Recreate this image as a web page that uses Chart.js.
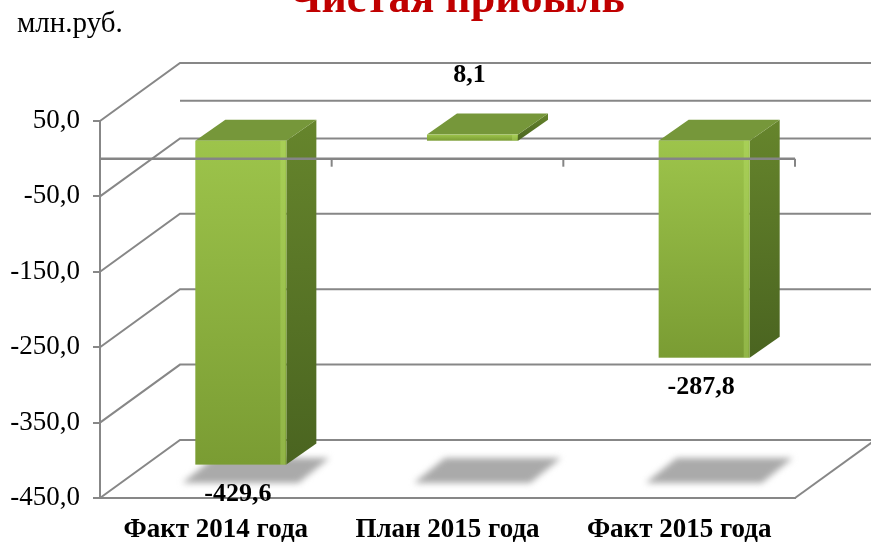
<!DOCTYPE html>
<html>
<head>
<meta charset="utf-8">
<script src="https://cdn.jsdelivr.net/npm/chart.js@4.4.0/dist/chart.umd.min.js"></script>
<style>
  html, body { margin: 0; padding: 0; background: #fff; }
  #wrap { width: 871px; height: 544px; }
</style>
</head>
<body>
<div id="wrap"><canvas id="profitChart" width="871" height="544"></canvas></div>
<script>
// DATA
const TITLE = "Чистая прибыль";
const UNIT = "млн.руб.";
const categories = ["Факт 2014 года", "План 2015 года", "Факт 2015 года"];
const values = [-429.6, 8.1, -287.8];
const Y_MIN = -450;
const Y_MAX = 50;
const Y_STEP = 100;

// 3D LOOK
const WALL_DX = 80, WALL_DY = -58;   // back wall offset
const BAR_DX = 25, BAR_DY = -18;     // bar front face offset
const DEPTH_DX = 30, DEPTH_DY = -21; // bar depth
const GRID = "#878787";
const SERIF = "'Liberation Serif', 'Times New Roman', serif";

function fmt(v) {
  return Number(v).toFixed(1).replace(".", ",");
}

function poly(ctx, pts, fill) {
  ctx.beginPath();
  ctx.moveTo(pts[0][0], pts[0][1]);
  for (let i = 1; i < pts.length; i++) ctx.lineTo(pts[i][0], pts[i][1]);
  ctx.closePath();
  ctx.fillStyle = fill;
  ctx.fill();
}

function barBox(el) {
  const p = el.getProps(["x", "y", "base", "width"], true);
  const left = p.x - p.width / 2 + BAR_DX;
  return {
    left: left,
    right: left + p.width,
    top: Math.min(p.y, p.base) + BAR_DY,
    bottom: Math.max(p.y, p.base) + BAR_DY
  };
}

// WALLS, FLOOR, SHADOWS, 3D BARS
const box3d = {
  id: "box3d",
  beforeDatasetsDraw(chart) {
    const ctx = chart.ctx;
    const ys = chart.scales.y;
    const L = chart.chartArea.left, R = chart.chartArea.right;
    ctx.save();
    ctx.strokeStyle = GRID;
    ctx.lineWidth = 2;

    ys.ticks.forEach(t => {
      const py = ys.getPixelForValue(t.value);
      ctx.beginPath();
      ctx.moveTo(L, py);
      ctx.lineTo(L + WALL_DX, py + WALL_DY);
      ctx.lineTo(R + WALL_DX, py + WALL_DY);
      ctx.stroke();
    });

    const z = ys.getPixelForValue(0);
    ctx.beginPath();
    ctx.moveTo(L + WALL_DX, z + WALL_DY);
    ctx.lineTo(R + WALL_DX, z + WALL_DY);
    ctx.stroke();

    const fb = ys.getPixelForValue(Y_MIN);
    ctx.beginPath();
    ctx.moveTo(R, fb);
    ctx.lineTo(R + WALL_DX, fb + WALL_DY);
    ctx.stroke();

    // shadows on the floor
    ctx.filter = "blur(3px)";
    chart.getDatasetMeta(0).data.forEach(el => {
      const b = barBox(el);
      const f = fb + BAR_DY + 3;
      const k = f + DEPTH_DY - 4;
      poly(ctx, [
        [b.left - 13, f], [b.right + 12, f],
        [b.right + DEPTH_DX + 13, k], [b.left + DEPTH_DX - 12, k]
      ], "#aaaaaa");
    });
    ctx.filter = "none";
    ctx.restore();
  },

  afterDatasetsDraw(chart) {
    const ctx = chart.ctx;
    const ys = chart.scales.y, xs = chart.scales.x;
    const L = chart.chartArea.left, R = chart.chartArea.right;
    const meta = chart.getDatasetMeta(0);
    ctx.save();

    meta.data.forEach(el => {
      const b = barBox(el);
      // side
      const sg = ctx.createLinearGradient(0, b.top + DEPTH_DY, 0, b.bottom);
      sg.addColorStop(0, "#66852c");
      sg.addColorStop(1, "#4a6420");
      poly(ctx, [
        [b.right, b.top], [b.right + DEPTH_DX, b.top + DEPTH_DY],
        [b.right + DEPTH_DX, b.bottom + DEPTH_DY], [b.right, b.bottom]
      ], sg);
      // top
      poly(ctx, [
        [b.left, b.top], [b.right, b.top],
        [b.right + DEPTH_DX, b.top + DEPTH_DY], [b.left + DEPTH_DX, b.top + DEPTH_DY]
      ], "#76973a");
      // front
      const fg = ctx.createLinearGradient(0, b.top, 0, b.bottom);
      fg.addColorStop(0, "#9dc44b");
      fg.addColorStop(1, "#7a9c33");
      ctx.fillStyle = fg;
      ctx.fillRect(b.left, b.top, b.right - b.left, b.bottom - b.top);
      ctx.fillStyle = "rgba(190,230,110,0.35)";
      ctx.fillRect(b.right - 6, b.top, 5, b.bottom - b.top);
    });

    // category axis at zero, in front of the bars
    const z = ys.getPixelForValue(0);
    ctx.strokeStyle = "#858585";
    ctx.lineWidth = 2.5;
    ctx.beginPath();
    ctx.moveTo(L, z);
    ctx.lineTo(R, z);
    ctx.stroke();
    ctx.lineWidth = 2;
    for (let i = 0; i < categories.length; i++) {
      const bx = i < categories.length - 1
        ? (xs.getPixelForValue(i) + xs.getPixelForValue(i + 1)) / 2
        : R;
      ctx.beginPath();
      ctx.moveTo(bx, z);
      ctx.lineTo(bx, z + 8);
      ctx.stroke();
    }

    // value labels
    ctx.fillStyle = "#000";
    ctx.font = "bold 26px " + SERIF;
    ctx.textAlign = "center";
    ctx.textBaseline = "middle";
    meta.data.forEach((el, i) => {
      const b = barBox(el);
      const cx = (b.left + b.right) / 2 - 3;
      const v = values[i];
      const ty = v < 0 ? b.bottom + 30 : b.top + DEPTH_DY - 38;
      ctx.fillText(fmt(v), cx, ty);
    });
    ctx.restore();
  },

  afterDraw(chart) {
    const ctx = chart.ctx;
    ctx.save();
    ctx.fillStyle = "#c00000";
    ctx.font = "bold 44px " + SERIF;
    ctx.textAlign = "center";
    ctx.textBaseline = "alphabetic";
    ctx.fillText(TITLE, 457, 12);
    ctx.fillStyle = "#000";
    ctx.font = "29px " + SERIF;
    ctx.textAlign = "left";
    ctx.fillText(UNIT, 17, 32);
    ctx.restore();
  }
};

new Chart(document.getElementById("profitChart"), {
  type: "bar",
  data: {
    labels: categories,
    datasets: [{
      data: values,
      backgroundColor: "rgba(0,0,0,0)",
      borderWidth: 0,
      barPercentage: 1,
      categoryPercentage: 0.393
    }]
  },
  options: {
    responsive: false,
    animation: false,
    layout: { padding: { top: 121, right: 76, left: 0, bottom: 0 } },
    plugins: {
      legend: { display: false },
      tooltip: { enabled: false }
    },
    scales: {
      x: {
        grid: { display: false, drawTicks: false },
        border: { display: true, color: GRID, width: 2 },
        ticks: {
          color: "#000",
          font: { family: SERIF, size: 27, weight: "bold" },
          padding: 16,
          maxRotation: 0
        },
        afterFit(s) { s.height = 46; }
      },
      y: {
        min: Y_MIN,
        max: Y_MAX,
        ticks: {
          stepSize: Y_STEP,
          color: "#000",
          font: { family: SERIF, size: 27 },
          padding: 13,
          callback: v => fmt(v)
        },
        grid: { drawOnChartArea: false, drawTicks: true, tickLength: 7, color: GRID, lineWidth: 2 },
        border: { display: true, color: GRID, width: 2 },
        afterFit(s) { s.width = 100; }
      }
    }
  },
  plugins: [box3d]
});
</script>
</body>
</html>
